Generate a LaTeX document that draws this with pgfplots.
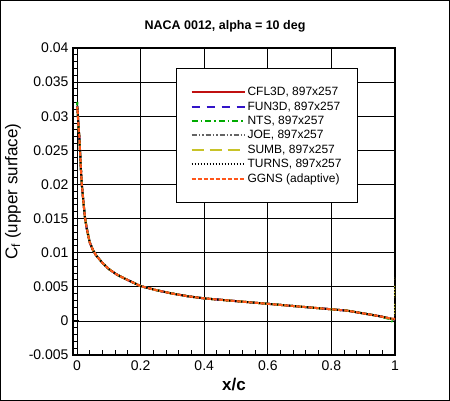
\documentclass[border=0pt]{standalone}
\usepackage{fontspec}
\setmainfont{Liberation Sans}
\usepackage{pgfplots}
\usepackage{pgfplotstable}
\pgfplotsset{compat=1.18}
\definecolor{cflred}{RGB}{192,16,16}
\definecolor{funblue}{RGB}{50,20,200}
\definecolor{ntsgreen}{RGB}{0,170,0}
\definecolor{joegray}{RGB}{100,100,100}
\definecolor{sumbolive}{RGB}{200,195,40}
\definecolor{ggnsorange}{RGB}{255,85,25}

% Cf on the upper surface
\pgfplotstableread{
x cf
0.0005 0.0312
0.001 0.0315
0.002 0.0308
0.004 0.0290
0.007 0.0272
0.0095 0.0250
0.012 0.0225
0.015 0.0201
0.020 0.0175
0.025 0.0152
0.030 0.0137
0.040 0.0115
0.050 0.0104
0.060 0.0096
0.080 0.0085
0.100 0.0076
0.125 0.0068
0.150 0.0062
0.200 0.0051
0.250 0.0045
0.300 0.0040
0.350 0.0036
0.400 0.0033
0.500 0.0029
0.600 0.0025
0.700 0.0021
0.800 0.0017
0.850 0.0015
0.900 0.0011
0.950 0.0007
0.980 0.0004
1.000 0.0002
}\basedata

\pgfplotstableread{
x cf
0.0005 0.0316
0.001 0.0321
0.002 0.0312
0.004 0.0292
0.007 0.0273
0.0095 0.0251
0.012 0.0226
0.015 0.0203
0.020 0.0176
0.025 0.0153
0.030 0.0138
0.040 0.0116
0.050 0.0104
0.060 0.0096
0.080 0.0085
0.100 0.0076
0.125 0.0068
0.150 0.0062
0.200 0.0051
0.250 0.0045
0.300 0.0040
0.350 0.0036
0.400 0.0033
0.500 0.0029
0.600 0.0025
0.700 0.0021
0.800 0.0017
0.850 0.0015
0.900 0.0011
0.950 0.0007
0.980 0.0003
1.000 -0.0004
}\ntsdata

\pgfplotstableread{
x cf
0.0005 0.0310
0.001 0.0313
0.002 0.0307
0.004 0.0289
0.007 0.0271
0.0095 0.0249
0.012 0.0224
0.015 0.0200
0.020 0.0174
0.025 0.0151
0.030 0.0136
0.040 0.0115
0.050 0.0104
0.060 0.0096
0.080 0.0085
0.100 0.0076
0.125 0.0068
0.150 0.0062
0.200 0.0051
0.250 0.0045
0.300 0.0040
0.350 0.0036
0.400 0.0033
0.500 0.0029
0.600 0.0025
0.700 0.0021
0.800 0.0017
0.850 0.0015
0.900 0.0011
0.950 0.0007
0.980 0.0004
1.000 0.0002
1.000 0.0063
}\sumbdata

\pgfplotstableread{
x cf
0.0005 0.0310
0.001 0.0314
0.002 0.0309
0.004 0.0290
0.007 0.0272
0.0095 0.0250
0.012 0.0225
0.015 0.0201
0.020 0.0175
0.025 0.0152
0.030 0.0137
0.040 0.0115
0.050 0.0104
0.060 0.0096
0.080 0.0085
0.100 0.0076
0.125 0.0068
0.150 0.0062
0.200 0.0051
0.250 0.0045
0.300 0.0040
0.350 0.0036
0.400 0.0033
0.500 0.0029
0.600 0.0025
0.700 0.0021
0.800 0.0017
0.850 0.0015
0.900 0.0011
0.950 0.0007
0.980 0.0004
1.000 0.0003
}\ggnsdata

\begin{document}
\begin{tikzpicture}
\useasboundingbox (0,0) rectangle (450bp,401bp);
\draw[line width=1.2bp] (0.6bp,0.6bp) rectangle (449.4bp,400.4bp);
\begin{axis}[
    at={(73bp,46bp)},
    anchor=south west,
    scale only axis,
    width=322bp,
    height=307bp,
    xmin=-0.0126, xmax=1,
    ymin=-0.005, ymax=0.04,
    scaled x ticks=false,
    scaled y ticks=false,
    xtick={0,0.2,0.4,0.6,0.8,1},
    xticklabels={0,0.2,0.4,0.6,0.8,1},
    ytick={-0.005,0,0.005,0.01,0.015,0.02,0.025,0.03,0.035,0.04},
    yticklabels={-0.005,0,0.005,0.01,0.015,0.02,0.025,0.03,0.035,0.04},
    minor x tick num=4,
    minor y tick num=4,
    tick align=inside,
    xtick pos=bottom,
    ytick pos=left,
    major tick length=6bp,
    minor tick length=5bp,
    every tick/.style={black, line width=1bp},
    grid=major,
    major grid style={black, line width=0.7bp},
    axis line style={line width=1.5bp},
    tick label style={font=\fontsize{14bp}{16bp}\selectfont},
    xticklabel style={yshift=-2bp},
    yticklabel style={xshift=-1bp},
    title={\bfseries NACA 0012, alpha = 10 deg},
    title style={at={(rel axis cs:0.5,1)}, anchor=center, yshift=16bp, xshift=-9bp,
        font=\fontsize{12.5bp}{14bp}\selectfont},
    xlabel={\bfseries x/c},
    xlabel style={at={(rel axis cs:0.5,0)}, anchor=center, yshift=-30bp,
        font=\fontsize{17bp}{19bp}\selectfont},
    ylabel={C\textsubscript{f} (upper surface)},
    every axis y label/.style={at={([xshift=-60bp,yshift=10bp]rel axis cs:0,0.5)},
        rotate=90, anchor=center, font=\fontsize{17bp}{19bp}\selectfont},
    legend style={at={(rel axis cs:0.32,0.935)}, anchor=north west, draw=black, line width=1bp,
        fill=white, inner xsep=14bp, inner ysep=17bp, row sep=0.5bp,
        font=\fontsize{12bp}{14bp}\selectfont, cells={anchor=west}},
    legend cell align=left,
    legend image code/.code={\draw[#1] (0bp,0bp) -- (53bp,0bp);},
    every axis plot/.append style={line width=2bp},
]
\addplot[cflred, solid] table[x=x, y=cf] {\basedata};
\addplot[funblue, dash pattern=on 8bp off 7bp] table[x=x, y=cf] {\basedata};
\addplot[ntsgreen, dash pattern=on 6bp off 3bp on 1.5bp off 3bp] table[x=x, y=cf] {\ntsdata};
\addplot[joegray, dash pattern=on 5bp off 2bp on 1.5bp off 2bp on 1.5bp off 2bp] table[x=x, y=cf] {\basedata};
\addplot[sumbolive, dash pattern=on 12bp off 6bp] table[x=x, y=cf] {\sumbdata};
\addplot[black, dash pattern=on 1.5bp off 1.5bp] table[x=x, y=cf] {\sumbdata};
\addplot[ggnsorange, dash pattern=on 4bp off 2bp] table[x=x, y=cf] {\ggnsdata};
\legend{{CFL3D, 897x257}, {FUN3D, 897x257}, {NTS, 897x257}, {JOE, 897x257}, {SUMB, 897x257}, {TURNS, 897x257}, {GGNS (adaptive)}}
\end{axis}
\end{tikzpicture}
\end{document}
